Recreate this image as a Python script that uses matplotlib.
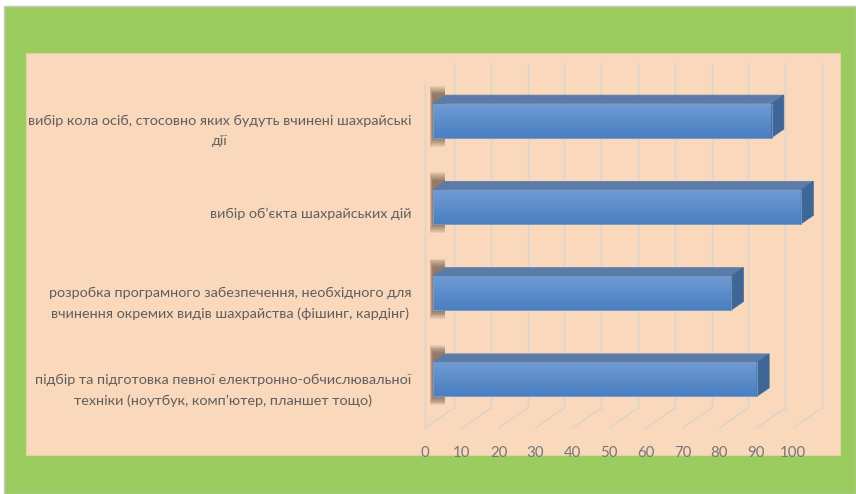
import numpy as np
import matplotlib
matplotlib.use("Agg")
import matplotlib.pyplot as plt
from matplotlib.patches import Rectangle, Polygon
from matplotlib.colors import LinearSegmentedColormap

# ---- data ----
categories = [
    "вибір кола осіб, стосовно яких будуть вчинені шахрайські\nдії",
    "вибір об’єкта шахрайських дій",
    "розробка програмного забезпечення, необхідного для\nвчинення окремих видів шахрайства (фішинг, кардінг)",
    "підбір та підготовка певної електронно-обчислювальної\nтехніки (ноутбук, комп’ютер, планшет тощо)",
]
values = [92, 100, 81, 88]
xticks = [0, 10, 20, 30, 40, 50, 60, 70, 80, 90, 100]

W, H = 856, 494
fig = plt.figure(figsize=(W / 100, H / 100), dpi=100)
fig.patch.set_facecolor("white")

def fx(px):
    return px / W

def fy(py):
    return 1 - py / H

# outer green frame and peach panel
fig.add_artist(Rectangle((fx(4), fy(494)), fx(856) - fx(4), fy(6) - fy(494),
                         transform=fig.transFigure, facecolor="#9BCC5F",
                         edgecolor="#c8c8c8", lw=1.0, zorder=-3))
fig.add_artist(Rectangle((fx(26), fy(455)), fx(840) - fx(26), fy(53) - fy(455),
                         transform=fig.transFigure, facecolor="#F9D8BC",
                         edgecolor="#E3D3A0", lw=0.8, zorder=-2))

# front plane of the 3D plot area
left, right, top, bottom = 425, 793, 83, 428
ax = fig.add_axes([fx(left), fy(bottom), fx(right) - fx(left), fy(top) - fy(bottom)])
ax.set_zorder(2)
ax.set_facecolor("none")
ax.set_xlim(0, 100)
n = len(categories)
ax.set_ylim(n - 0.5, -0.5)

px_per_x = (right - left) / 100.0
px_per_y = (bottom - top) / n
DX = 29 / px_per_x          # depth in x (data units)
DY = 20 / px_per_y          # depth in y (data units, upward)
t0, t1 = 0.28, 0.70
h = 34 / px_per_y

grid_c = "#D9D4CC"
# back wall gridlines + floor diagonals
for v in xticks:
    ax.plot([v + DX, v + DX], [-0.5 - DY, n - 0.5 - DY], color=grid_c, lw=1.0,
            clip_on=False, zorder=1)
    ax.plot([v, v + DX], [n - 0.5, n - 0.5 - DY], color=grid_c, lw=1.0,
            clip_on=False, zorder=1)
# left wall front edge
ax.plot([0, 0], [-0.5, n - 0.5], color=grid_c, lw=1.0, clip_on=False, zorder=1)

ypos = np.arange(n)
a = t0 * DX
yshift = t0 * DY
ddx = (t1 - t0) * DX
ddy = (t1 - t0) * DY

grad = np.linspace(0, 1, 64).reshape(-1, 1)
cmap = LinearSegmentedColormap.from_list("bar", ["#6F9BD3", "#4A7FC2"])

bars = ax.barh(ypos - yshift, values, left=a, height=h, color="#5A8CCB",
               edgecolor="#6F90BC", lw=0.6, zorder=4, clip_on=False)
for b, v, y in zip(bars, values, ypos):
    yt = y - yshift - h / 2
    yb = y - yshift + h / 2
    # soft shadow at left end
    nl = 10
    for k in range(nl):
        e = (nl - k) * 0.9 / px_per_y
        ex = (nl - k) * 0.35 / px_per_x
        ax.add_patch(Polygon([(a - ex, yt - ddy - e), (a + 12 / px_per_x, yt - ddy - e),
                              (a + 12 / px_per_x, yb + e), (a - ex, yb + e)],
                             closed=True, facecolor="#3b2a1e", alpha=0.07, lw=0,
                             zorder=2, clip_on=False))
    # gradient on front face
    im = ax.imshow(grad, cmap=cmap, aspect="auto",
                   extent=(a, a + v, yb, yt), zorder=4.5, clip_on=False)
    im.set_clip_path(b)
    # top face
    ax.add_patch(Polygon([(a, yt), (a + v, yt), (a + v + ddx, yt - ddy), (a + ddx, yt - ddy)],
                         closed=True, facecolor="#5B7CA8", edgecolor="#5B7CA8",
                         lw=0.5, zorder=5, clip_on=False))
    # side face
    ax.add_patch(Polygon([(a + v, yt), (a + v + ddx, yt - ddy), (a + v + ddx, yb - ddy), (a + v, yb)],
                         closed=True, facecolor="#3E6696", edgecolor="#3E6696",
                         lw=0.5, zorder=5, clip_on=False))
    # redraw front edge on top
    ax.add_patch(Rectangle((a, yt), v, h, facecolor="none", edgecolor="#7A9CC8",
                           lw=0.6, zorder=6, clip_on=False))

ax.set_xlim(0, 100)
ax.set_ylim(n - 0.5, -0.5)

for s in ax.spines.values():
    s.set_visible(False)
ax.set_xticks(xticks)
ax.set_xticklabels([str(t) for t in xticks])
ax.set_yticks(ypos)
ax.set_yticklabels(categories)
ax.tick_params(axis="both", length=0)
ax.tick_params(axis="x", pad=13, labelsize=10.8, labelcolor="#777777")
ax.tick_params(axis="y", pad=10, labelsize=10.4, labelcolor="#5f5f5f")
for lbl in ax.get_xticklabels() + ax.get_yticklabels():
    lbl.set_fontfamily(["Lato", "DejaVu Sans"])
for lbl in ax.get_yticklabels():
    lbl.set_multialignment("center")
    lbl.set_linespacing(1.8)

fig.savefig("out.png", dpi=100, facecolor=fig.get_facecolor())
